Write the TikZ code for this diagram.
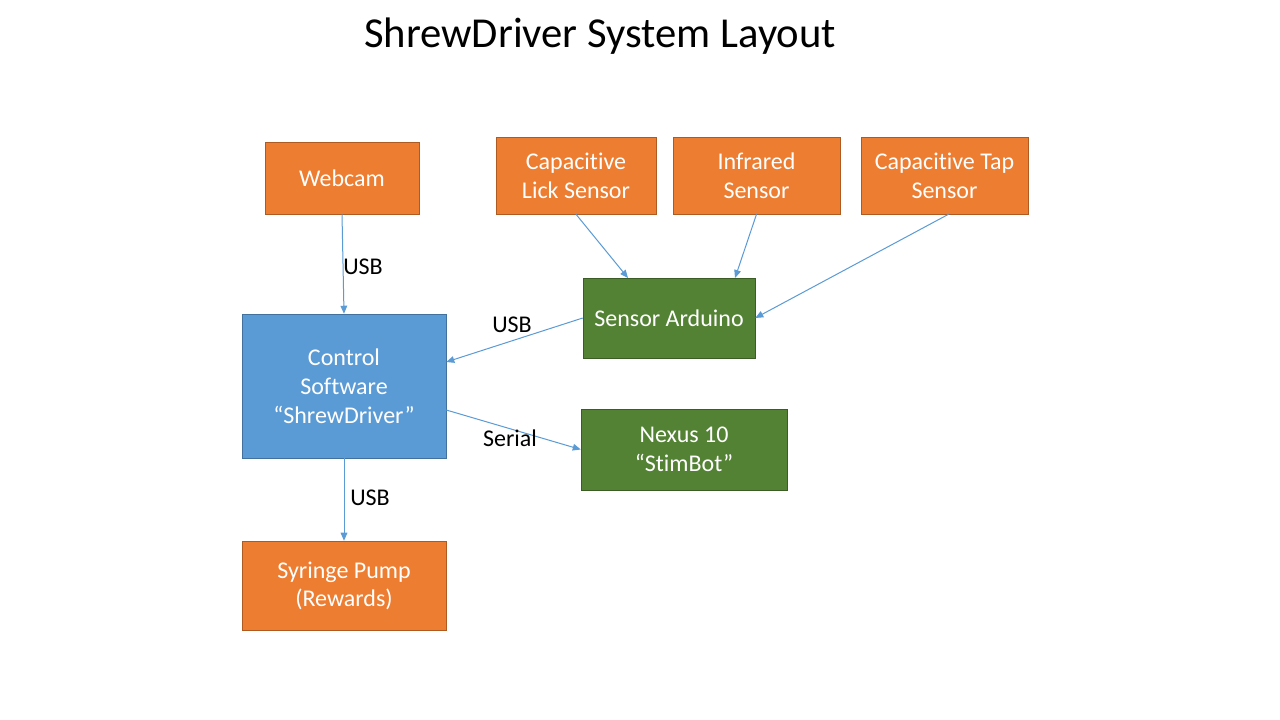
\documentclass[tikz,border=0pt]{standalone}
\usepackage{fontspec}
\setmainfont{Carlito}[RawFeature={-liga;-clig;-dlig}]
\usetikzlibrary{arrows.meta}

\definecolor{boxorange}{HTML}{ED7D31}
\definecolor{lineorange}{HTML}{AE5A21}
\definecolor{boxgreen}{HTML}{548235}
\definecolor{linegreen}{HTML}{3B5C25}
\definecolor{boxblue}{HTML}{5B9BD5}
\definecolor{lineblue}{HTML}{41719C}

\begin{document}
\begin{tikzpicture} [
    x = 0.75pt, y = -0.75pt,
    box/.style      = {draw,
                       text=white,
                       align=center,
                       inner sep=0pt,
                       font=\fontsize{18}{21.6}\selectfont},
    device/.style   = {box, fill=boxorange, draw=lineorange},
    board/.style    = {box, fill=boxgreen, draw=linegreen},
    software/.style = {box, fill=boxblue, draw=lineblue},
    arr/.style      = {draw=boxblue, line width=0.75pt,
                       -{Triangle[length=6pt,width=5pt]}},
    lbl/.style      = {font=\fontsize{18}{21.6}\selectfont}
]
\useasboundingbox[fill=white] (0,0) rectangle (1280,720);
\node (title) at (600,36) {\fontsize{32}{38}\selectfont ShrewDriver System Layout};

% sensors and devices
\node (webcam) [device, minimum width=154*0.75pt, minimum height=72*0.75pt] at (342,178) {Webcam};
\node (lick) [device, minimum width=160*0.75pt, minimum height=77*0.75pt] at (576,175.5) {Capacit\/ive\\Lick Sensor};
\node (infrared) [device, minimum width=167*0.75pt, minimum height=77*0.75pt] at (756.5,175.5) {Infrared\\Sensor};
\node (tap) [device, minimum width=167*0.75pt, minimum height=77*0.75pt] at (944.5,175.5) {Capacit\/ive Tap\\Sensor};
\node (arduino) [board, minimum width=172*0.75pt, minimum height=80*0.75pt] at (669,318) {Sensor Arduino};
\node (control) [software, minimum width=204*0.75pt, minimum height=144*0.75pt] at (344,386) {Control\\Software\\“ShrewDriver”};
\node (nexus) [board, minimum width=206*0.75pt, minimum height=81*0.75pt] at (684,449.5) {Nexus 10\\“StimBot”};
\node (pump) [device, minimum width=204*0.75pt, minimum height=89*0.75pt, text depth=2pt] at (344,585.5) {Syringe Pump\\(Rewards)};

% connections
\coordinate (lickEnd) at (628,278);
\coordinate (irEnd) at (735,278);
\draw[arr] (lick.south) -- (lickEnd);
\draw[arr] (infrared.south) -- (irEnd);
\draw[arr] ([xshift=4*0.75pt]tap.south) -- (arduino.east);
\draw[arr] (webcam.south) -- (control.north);
\draw[arr] (arduino.west) -- ([yshift=24*0.75pt]control.east);
\draw[arr] ([yshift=-24*0.75pt]control.east) -- (nexus.west);
\draw[arr] (control.south) -- (pump.north);

% link labels
\node (usbA) [lbl] at (363,267) {USB};
\node (usbB) [lbl] at (512,325) {USB};
\node (serial) [lbl] at (510,438) {Serial};
\node (usbC) [lbl] at (370,498) {USB};
\end{tikzpicture}
\end{document}
